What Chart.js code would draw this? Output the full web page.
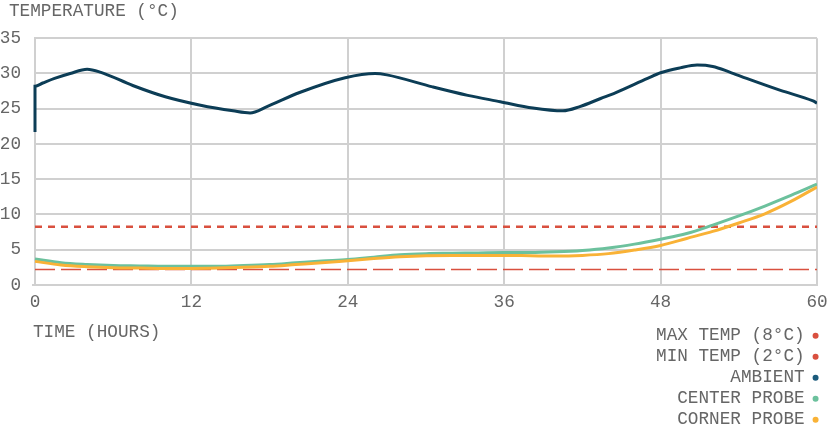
<!DOCTYPE html>
<html>
<head>
<meta charset="utf-8">
<script src="https://cdn.jsdelivr.net/npm/chart.js@4.4.1/dist/chart.umd.min.js"></script>
<style>
  html, body { margin: 0; padding: 0; background: #ffffff; }
  #wrap { position: relative; width: 828px; height: 425px; }
</style>
</head>
<body>
<div id="wrap"><canvas id="c"></canvas></div>
<script>
// ---- data ----
const ambientHours = [0, 0, 0.6, 1.5, 2.7, 4, 5, 7.5, 10, 12.7, 15.2, 16.5, 17.8, 20.3, 23.8, 26.1, 27, 30.5, 33.2, 35.7, 38.2, 40.5, 41.8, 43.4, 44.4, 47, 48, 49.5, 50.8, 52, 53.3, 54.6, 57.2, 59.7, 60];
const ambientTemps = [21.7, 28.2, 28.65, 29.3, 30.0, 30.6, 30.2, 28.3, 26.7, 25.5, 24.7, 24.4, 25.3, 27.3, 29.4, 30.0, 29.8, 28.1, 26.9, 26.0, 25.1, 24.7, 25.3, 26.45, 27.15, 29.3, 30.1, 30.8, 31.2, 31.0, 30.2, 29.3, 27.6, 26.1, 25.8];

const probeHours = [0, 2, 4, 6, 8, 10, 12, 14, 16, 18, 20, 22, 24, 26, 28, 30, 32, 34, 36, 38, 40, 42, 44, 46, 48, 50, 52, 54, 56, 58, 60];
const centerTemps = [3.7, 3.15, 2.9, 2.75, 2.7, 2.65, 2.65, 2.65, 2.75, 2.9, 3.15, 3.4, 3.6, 3.95, 4.3, 4.45, 4.5, 4.55, 4.6, 4.6, 4.7, 4.9, 5.25, 5.8, 6.5, 7.3, 8.5, 9.8, 11.2, 12.7, 14.3];
const cornerTemps = [3.35, 2.85, 2.6, 2.45, 2.4, 2.35, 2.35, 2.4, 2.5, 2.65, 2.9, 3.15, 3.45, 3.75, 4.0, 4.15, 4.2, 4.2, 4.2, 4.15, 4.1, 4.2, 4.45, 4.95, 5.6, 6.6, 7.6, 8.8, 10.1, 11.85, 13.9];

const limitHours = [0, 60];
const maxLimit = [8.25, 8.25];
const minLimit = [2.2, 2.2];

const seriesLabels = ['MAX TEMP (8°C)', 'MIN TEMP (2°C)', 'AMBIENT', 'CENTER PROBE', 'CORNER PROBE'];
const xTickStep = 12;
const yTickStep = 5;
const yTitle = 'TEMPERATURE (°C)';
const xTitle = 'TIME (HOURS)';

// ---- helpers ----
const pts = (xs, ys) => xs.map((x, i) => ({ x: x, y: ys[i] }));

const FONT = "'Liberation Mono', 'DejaVu Sans Mono', monospace";
const FS = 17.7;
Chart.defaults.font.family = FONT;
Chart.defaults.font.size = FS;
Chart.defaults.color = '#666666';

const GRID = '#d0d0d0';
const RED = '#d9503f';

const legendPlacer = {
  id: 'legendPlacer',
  afterInit(chart) {
    const lg = chart.legend;
    const fit = lg.fit;
    lg.fit = function () { fit.call(this); this.width = 0; };
  },
  afterLayout(chart) {
    const lg = chart.legend;
    lg.left = 560; lg.right = 821; lg.width = lg.right - lg.left;
    lg.top = 323.5; lg.bottom = 470; lg.height = lg.bottom - lg.top;
    const tb = chart.titleBlock;
    if (tb) { tb.left = 9; tb.right = tb.left + tb.width; }
    const xs = chart.scales.x;
    if (xs) { xs.left = xs.left - 2; }
  }
};

new Chart(document.getElementById('c'), {
  type: 'line',
  data: {
    datasets: [
      { label: seriesLabels[0], data: pts(limitHours, maxLimit), borderColor: RED, backgroundColor: RED,
        borderWidth: 2.5, borderDash: [7, 6], pointRadius: 0, order: 4, tension: 0 },
      { label: seriesLabels[1], data: pts(limitHours, minLimit), borderColor: RED, backgroundColor: RED,
        borderWidth: 1.5, borderDash: [20, 6], pointRadius: 0, order: 5, tension: 0 },
      { label: seriesLabels[2], data: pts(ambientHours, ambientTemps), borderColor: '#0c3d56', backgroundColor: '#1b5b7c',
        borderWidth: 3, pointRadius: 0, order: 3, cubicInterpolationMode: 'monotone' },
      { label: seriesLabels[3], data: pts(probeHours, centerTemps), borderColor: '#6cc19d', backgroundColor: '#6cc19d',
        borderWidth: 3, pointRadius: 0, order: 2, cubicInterpolationMode: 'monotone' },
      { label: seriesLabels[4], data: pts(probeHours, cornerTemps), borderColor: '#f9b236', backgroundColor: '#f9b236',
        borderWidth: 3, pointRadius: 0, order: 1, cubicInterpolationMode: 'monotone' }
    ]
  },
  options: {
    responsive: true,
    maintainAspectRatio: false,
    animation: false,
    layout: { padding: { left: 0, right: 11, top: 0, bottom: 0 } },
    plugins: {
      tooltip: { enabled: false },
      title: {
        display: true, text: yTitle, align: 'start',
        padding: { top: 1, bottom: 16 },
        font: { size: FS, weight: 'normal', family: FONT }, color: '#666666'
      },
      legend: {
        position: 'right', align: 'start', rtl: true, textDirection: 'ltr',
        labels: {
          usePointStyle: true, pointStyle: 'circle', boxWidth: 4.24, boxHeight: 4.24,
          padding: 3.3, font: { size: FS, family: FONT }, color: '#666666',
          generateLabels(chart) {
            const items = Chart.defaults.plugins.legend.labels.generateLabels(chart);
            items.forEach(it => { it.lineWidth = 0; it.pointStyle = 'circle'; });
            items.sort((a, b) => a.datasetIndex - b.datasetIndex);
            return items;
          }
        }
      }
    },
    scales: {
      x: {
        type: 'linear', min: 0, max: 60,
        ticks: { stepSize: xTickStep, padding: 7, font: { size: FS, family: FONT }, color: '#666666' },
        grid: { color: GRID, lineWidth: 2, drawTicks: false },
        border: { color: GRID, width: 2 },
        title: {
          display: true, text: xTitle, align: 'start',
          padding: { top: 0, bottom: 82 },
          font: { size: FS, family: FONT }, color: '#666666'
        },
        afterFit(s) { s.height = 140; s.paddingLeft = 0; s.paddingRight = 0; }
      },
      y: {
        min: 0, max: 35,
        ticks: { stepSize: yTickStep, padding: 14, font: { size: FS, family: FONT }, color: '#666666' },
        grid: { color: GRID, lineWidth: 2, drawTicks: false },
        border: { color: GRID, width: 2 },
        afterFit(s) { s.width = 35; }
      }
    }
  },
  plugins: [legendPlacer]
});
</script>
</body>
</html>
